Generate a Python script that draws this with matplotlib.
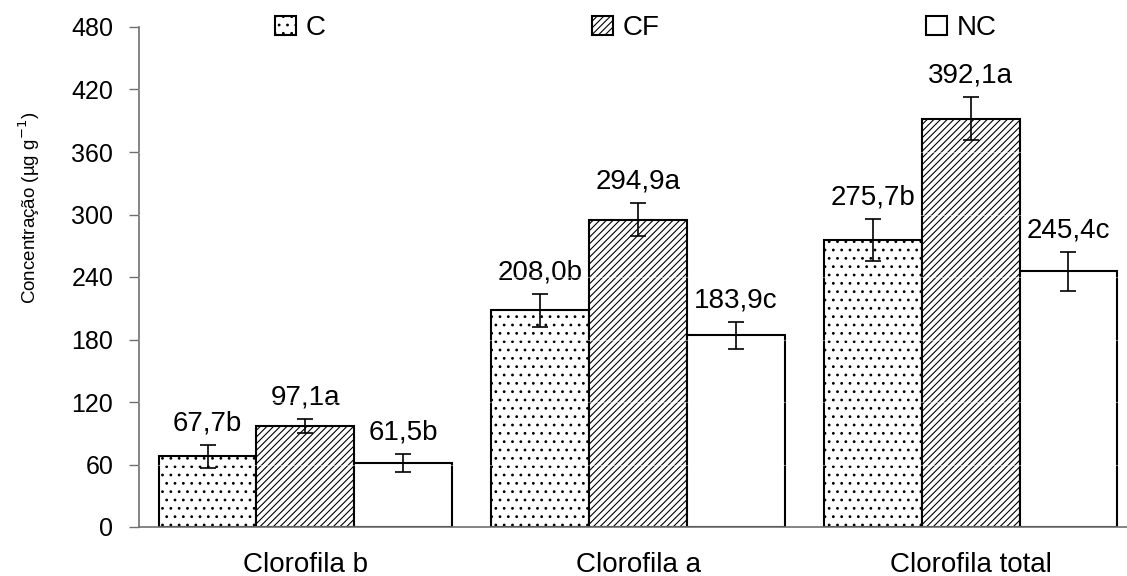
import matplotlib
matplotlib.use("Agg")
import matplotlib.pyplot as plt
import numpy as np

plt.rcParams['font.family'] = ['Liberation Sans', 'DejaVu Sans']
plt.rcParams['hatch.linewidth'] = 0.8
plt.rcParams['hatch.color'] = 'black'

categorias = ['Clorofila b', 'Clorofila a', 'Clorofila total']
tratamentos = ['C', 'CF', 'NC']
media_c = [67.7, 208.0, 275.7]
media_cf = [97.1, 294.9, 392.1]
media_nc = [61.5, 183.9, 245.4]
erro_c = [11.0, 16.0, 20.0]
erro_cf = [7.0, 16.0, 21.0]
erro_nc = [9.0, 13.0, 19.0]
letras_c = ['b', 'b', 'b']
letras_cf = ['a', 'a', 'a']
letras_nc = ['b', 'c', 'c']
yticks = [0, 60, 120, 180, 240, 300, 360, 420, 480]

fig = plt.figure(figsize=(11.27, 5.76), dpi=100)
ax = fig.add_axes([139 / 1127, 49 / 576, 998 / 1127, 500 / 576])

x = np.arange(len(categorias))
w = 0.294
series = [
    (media_c, erro_c, letras_c, '..'),
    (media_cf, erro_cf, letras_cf, '/////'),
    (media_nc, erro_nc, letras_nc, ''),
]

for i, (vals, errs, letras, hatch) in enumerate(series):
    pos = x + (i - 1) * w
    ax.bar(pos, vals, w, yerr=errs, capsize=5.5, facecolor='white',
           edgecolor='black', linewidth=1.5, hatch=hatch,
           label=tratamentos[i], zorder=2,
           error_kw=dict(elinewidth=1.2, capthick=1.2, ecolor='black', zorder=4))
    for p, v, e, l in zip(pos, vals, errs, letras):
        txt = f"{v:.1f}".replace('.', ',') + l
        ax.annotate(txt, (p, v + e), xytext=(0, 6), textcoords='offset points',
                    ha='center', va='bottom', fontsize=20)

# faint guide lines showing through the hatched bars
for yv in yticks[1:-1]:
    ax.axhline(yv, color='white', lw=0.8, alpha=0.45, zorder=3)

ax.set_xlim(-0.5, 2.5)
ax.set_ylim(0, 480)
ax.set_yticks(yticks)
ax.set_xticks(x)
ax.set_xticklabels(categorias, fontsize=20)
ax.tick_params(axis='x', length=0, pad=18)
ax.tick_params(axis='y', length=7.5, width=1, color='#707070', pad=11, labelsize=18)

ax.spines['top'].set_visible(False)
ax.spines['right'].set_visible(False)
for s in ['left', 'bottom']:
    ax.spines[s].set_color('#707070')
    ax.spines[s].set_linewidth(1.2)

ax.set_ylabel('Concentração (µg g$^{-1}$)', fontsize=13.5)
ax.yaxis.set_label_coords(-0.097, 0.638)

ax.legend(ncol=3, loc='center left', bbox_to_anchor=(275 / 1127, 1 - 28 / 576),
          bbox_transform=fig.transFigure, frameon=False, fontsize=20,
          handlelength=0.75, handleheight=0.65, handletextpad=0.35,
          columnspacing=9.6, borderpad=0, borderaxespad=0)

fig.savefig('out.png', dpi=100)
